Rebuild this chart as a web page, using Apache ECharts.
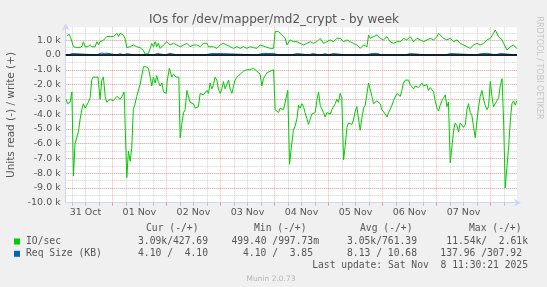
<!DOCTYPE html>
<html><head><meta charset="utf-8">
<script src="https://cdn.jsdelivr.net/npm/echarts@6/dist/echarts.min.js"></script>
<style>html,body{margin:0;padding:0;background:#f0f0f0}#c{width:547px;height:287px}</style>
</head><body><div id="c"></div><script>
// hours relative to Sat 01 Nov 00:00
const xMin = -20.75, xMax = 179.75;
const dayTicks = [0, 24, 48, 72, 96, 120, 144, 168];
const sixHourTicks = [-18,-12,-6,6,12,18,30,36,42,54,60,66,78,84,90,102,108,114,126,132,138,150,156,162,174];
const labelTicks = [-12, 12, 36, 60, 84, 108, 132, 156];
const dateLabels = ["31 Oct","01 Nov","02 Nov","03 Nov","04 Nov","05 Nov","06 Nov","07 Nov"];

// IO/sec write (+)
const ioWrite = [[-20.1,1300],[-19.2,1400],[-18.6,1200],[-17.9,1100],[-17.3,560],[-15.8,500],[-14.4,500],[-13.5,600],[-12.9,900],[-12.1,560],[-10.8,560],[-9.9,700],[-9.2,560],[-8.4,500],[-7.7,560],[-6.9,900],[-6.2,680],[-5.5,900],[-4.7,800],[-4.0,1000],[-3.2,1130],[-2.5,1250],[-1.8,1130],[-1.0,1250],[-0.3,1130],[0.4,1250],[1.2,1350],[2.0,1470],[2.7,1250],[3.4,1470],[4.2,1580],[4.9,1350],[5.6,1130],[6.4,500],[7.1,560],[7.9,560],[8.6,500],[9.3,680],[10.1,790],[10.8,560],[11.6,680],[12.3,500],[13.1,400],[13.8,300],[14.5,50],[15.3,0],[16.0,100],[16.8,450],[17.5,790],[18.2,560],[19.0,900],[19.7,560],[20.4,790],[21.2,450],[22.7,680],[23.4,790],[24.2,900],[24.9,1000],[25.6,680],[27.1,790],[28.6,680],[30.1,560],[31.6,680],[33.1,790],[34.5,560],[36.0,680],[37.5,680],[39.0,560],[40.4,790],[41.2,680],[42.0,790],[42.7,560],[43.4,680],[44.9,560],[46.4,450],[47.9,680],[49.3,790],[50.8,680],[52.3,560],[53.8,450],[55.3,560],[56.8,450],[58.2,560],[59.7,450],[61.2,560],[62.7,500],[64.2,450],[65.6,680],[66.4,680],[67.9,560],[70.1,450],[71.6,450],[72.3,1580],[73.1,1690],[73.8,1580],[74.5,1470],[75.3,1350],[76.0,1350],[76.8,1130],[77.5,680],[78.2,790],[79.0,1020],[80.4,900],[81.2,1020],[82.0,900],[83.4,790],[84.9,680],[86.4,790],[87.9,900],[89.3,790],[90.8,900],[92.3,1130],[93.1,1020],[93.8,790],[95.3,900],[96.8,1020],[98.2,900],[99.7,1130],[100.4,1240],[101.2,1130],[102.7,900],[104.2,1020],[105.6,900],[107.1,790],[108.6,680],[110.1,450],[111.6,680],[113.1,560],[113.8,1350],[114.5,1130],[116.0,1240],[117.5,1350],[119.0,1130],[120.4,1020],[122.0,1240],[123.4,900],[124.9,790],[126.4,900],[127.9,900],[129.3,1130],[130.8,1020],[132.3,1240],[133.8,900],[135.3,1130],[136.8,1020],[138.2,900],[139.7,1020],[141.2,1130],[142.7,1020],[144.2,1240],[144.9,1470],[145.6,1350],[147.1,1130],[148.6,1020],[150.1,1130],[151.6,900],[153.1,1020],[154.5,790],[156.0,680],[157.5,560],[159.0,450],[160.4,680],[162.0,790],[163.4,680],[164.9,790],[166.4,1020],[167.9,1130],[169.3,1470],[170.1,1690],[170.8,1470],[171.6,1240],[172.3,1130],[173.1,1020],[173.8,790],[175.3,340],[176.0,450],[176.8,560],[177.5,450],[178.2,680],[179.0,790],[179.7,428]];

// IO/sec read (-), stored as positive reads/sec
const ioRead = [[-20.6,3000],[-19.9,3300],[-18.8,3200],[-18.0,2500],[-17.3,8200],[-16.6,6000],[-15.8,5900],[-15.1,5200],[-14.4,4400],[-13.6,3700],[-12.9,3300],[-12.1,3600],[-11.4,3400],[-10.7,3200],[-9.9,2900],[-9.2,1700],[-8.6,1500],[-7.7,1500],[-6.4,1500],[-5.5,3000],[-4.7,1700],[-4.0,1500],[-3.2,2800],[-2.5,3200],[-1.0,3000],[0.4,3100],[2.0,2800],[3.4,3000],[4.3,2800],[5.2,2500],[6.4,8300],[7.1,6500],[7.9,7200],[8.6,6300],[9.3,3700],[10.1,3300],[10.8,2800],[12.3,2000],[13.8,800],[15.0,800],[16.0,900],[16.8,1500],[17.5,2100],[18.2,1500],[19.0,1900],[19.7,1400],[20.4,1800],[21.2,2100],[22.0,1900],[22.7,2500],[23.9,2600],[24.4,1700],[25.3,900],[26.4,1500],[27.1,1300],[28.3,1500],[28.9,1400],[29.5,1500],[30.1,5600],[30.8,4700],[31.6,3900],[32.3,3700],[33.1,2400],[34.5,3200],[36.0,3300],[36.8,3600],[37.5,3700],[38.2,3500],[39.0,2600],[39.7,2500],[40.4,2700],[41.2,2800],[42.0,2400],[42.7,2600],[43.4,1900],[44.2,2300],[44.9,2000],[45.6,1500],[46.4,1700],[47.1,2300],[47.9,2600],[48.6,2300],[49.3,1800],[50.1,2300],[50.8,2000],[51.6,1700],[52.3,2300],[53.1,2600],[53.8,2100],[54.5,1700],[55.3,1500],[56.8,1300],[57.5,1200],[58.2,1100],[59.7,1000],[61.2,1000],[62.7,900],[63.4,1000],[64.2,1100],[65.6,1300],[66.4,2100],[67.1,1600],[67.9,1400],[68.6,1200],[70.1,1100],[71.6,1000],[72.3,3700],[73.1,3700],[73.8,3900],[74.5,3600],[76.0,3700],[77.9,2400],[78.7,7400],[79.3,6500],[80.4,5100],[81.2,4800],[82.0,4300],[82.7,3400],[83.4,3600],[84.2,3300],[84.9,3500],[85.6,3900],[86.4,4300],[87.1,4700],[87.9,4600],[88.6,4000],[90.1,3900],[90.8,3100],[91.6,2500],[92.3,3400],[93.1,3500],[93.8,3900],[94.5,4200],[95.3,3900],[96.8,4000],[97.5,3700],[98.2,3600],[99.0,3300],[99.7,3000],[100.4,3200],[101.2,2600],[101.9,2900],[102.7,7100],[103.4,6200],[104.2,4900],[104.9,4600],[105.6,4500],[106.4,4700],[107.1,4400],[107.9,3800],[108.6,3500],[109.4,4400],[110.1,5100],[110.8,4300],[111.6,3600],[112.3,3400],[113.1,3500],[113.8,1900],[114.5,2000],[115.3,2800],[116.0,3300],[116.8,3400],[117.5,3100],[119.0,3300],[119.7,3700],[120.4,3700],[121.2,4000],[122.0,4200],[122.7,3900],[123.4,3700],[124.2,3400],[124.9,3100],[126.4,2600],[127.9,2800],[128.6,2400],[129.3,1900],[130.1,1700],[130.8,1800],[131.6,1700],[132.3,2000],[133.1,1900],[133.8,2300],[134.5,2100],[135.3,2000],[136.0,2200],[136.8,2300],[137.5,1900],[138.2,2100],[139.0,2200],[139.7,2000],[140.4,2400],[141.2,2200],[142.0,2300],[142.7,2500],[143.4,3100],[144.2,3600],[144.9,3800],[145.6,3400],[146.4,3100],[147.1,2900],[147.9,2700],[148.6,3500],[149.3,3200],[150.1,7300],[150.8,7300],[151.6,5100],[152.3,4600],[153.1,4800],[153.8,5200],[154.5,4600],[155.3,4500],[156.0,4900],[156.8,4700],[157.5,3700],[158.2,3300],[159.0,3900],[159.7,4100],[160.4,4800],[161.2,5600],[162.0,4400],[162.7,3500],[163.4,2800],[164.2,2400],[164.9,3000],[165.6,3400],[166.4,3700],[167.1,3500],[167.9,1800],[168.6,2800],[169.3,3500],[170.1,3600],[170.8,3100],[171.6,2900],[172.3,2100],[173.1,1600],[173.8,4400],[174.5,9000],[175.3,9000],[176.0,6300],[176.8,4400],[177.5,3300],[178.2,3100],[179.0,3400],[179.7,3090]];

// Req Size (KB) write (+)
const reqWrite = [[-20.7,8],[-19.3,8],[-18.8,110],[-17.9,100],[-17.3,8],[-7.0,8],[-6.4,120],[-5.0,130],[-3.6,110],[-2.4,120],[-1.8,8],[2.0,8],[2.5,90],[3.4,90],[4.0,8],[5.0,8],[5.6,100],[6.5,90],[7.1,8],[9.5,8],[10.1,80],[10.8,8],[14.7,8],[15.4,90],[16.0,8],[18.3,8],[19.0,100],[19.9,100],[20.5,8],[23.6,8],[24.3,110],[25.6,110],[26.3,8],[28.5,8],[29.2,80],[29.9,8],[32.5,8],[33.2,80],[33.9,8],[36.9,8],[37.6,80],[38.3,8],[41.4,8],[42.1,90],[44.0,100],[46.5,90],[47.9,100],[49.2,90],[49.9,8],[64.1,8],[64.8,100],[67.0,110],[69.2,100],[71.4,110],[72.1,8],[73.8,8],[74.5,80],[75.2,8],[79.6,8],[80.3,100],[82.1,100],[82.8,8],[87.2,8],[87.9,100],[89.2,100],[89.9,8],[91.6,8],[92.3,90],[93.0,8],[93.8,8],[94.5,90],[95.2,8],[96.1,8],[96.8,100],[98.1,100],[98.8,8],[103.6,8],[104.3,80],[105.0,8],[112.5,8],[113.2,110],[115.4,100],[117.6,110],[118.3,8],[119.6,8],[120.3,90],[121.0,8],[130.3,8],[131.0,100],[132.3,100],[133.0,8],[139.2,8],[139.9,90],[140.6,8],[143.6,8],[144.3,90],[145.0,8],[148.1,8],[148.8,100],[150.1,100],[150.8,8],[161.4,8],[162.1,110],[164.3,100],[166.5,110],[167.2,8],[170.3,8],[171.0,100],[172.3,100],[173.0,8],[179.7,4.1]];
// Req Size (KB) read (-), stored positive
const reqRead = [[-20.7,6],[40,9],[100,8],[179.7,4.1]];

const legendHead = ["Cur (-/+)", "Min (-/+)", "Avg (-/+)", "Max (-/+)"];
const legendRows = [
  {name: "IO/sec", color: "#00CC00", vals: ["3.09k/427.69", "499.40 /997.73m", "3.05k/761.39", "11.54k/  2.61k"]},
  {name: "Req Size (KB)", color: "#0066B3", vals: ["4.10 /  4.10", "4.10 /  3.85", "8.13 / 10.68", "137.96 /307.92"]}
];

const neg = arr => arr.map(p => [p[0], -p[1]]);
const SANS = "DejaVu Sans", MONO = "DejaVu Sans Mono";
const GRID_MINOR = "rgba(140,140,140,0.38)", GRID_MAJOR = "rgba(235,110,110,0.5)", AXIS = "#CFD6F8";

const chart = echarts.init(document.getElementById('c'), null, {renderer: 'canvas'});

const headX = [146, 254, 360, 469];
const valRight = [[208, 319, 417, 528], [208, 313, 417, 522]];
const rowY = [241.5, 253.8];
const graphic = [];
graphic.push({type:'text', x:274, y:20, style:{text:"IOs for /dev/mapper/md2_crypt - by week", font:"12px '"+SANS+"'", fill:"#555", align:'center', verticalAlign:'middle'}});
graphic.push({type:'text', x:11, y:115, rotation:Math.PI/2, style:{text:"Units read (-) / write (+)", font:"10.5px '"+SANS+"'", fill:"#555", align:'center', verticalAlign:'middle'}});
graphic.push({type:'text', x:539, y:68, rotation:-Math.PI/2, style:{text:"RRDTOOL / TOBI OETIKER", font:"8px '"+SANS+"'", fill:"#c4c4c4", align:'center', verticalAlign:'middle'}});
legendHead.forEach((t,i)=>graphic.push({type:'text', x:headX[i], y:228.4, style:{text:t, font:"9.7px '"+MONO+"'", fill:"#555", align:'left', verticalAlign:'middle'}}));
legendRows.forEach((r,ri)=>{
  graphic.push({type:'rect', shape:{x:14, y:rowY[ri]-3, width:6, height:6}, style:{fill:r.color}});
  graphic.push({type:'text', x:26, y:rowY[ri], style:{text:r.name, font:"9.7px '"+MONO+"'", fill:"#555", align:'left', verticalAlign:'middle'}});
  r.vals.forEach((v,i)=>graphic.push({type:'text', x:valRight[ri][i], y:rowY[ri], style:{text:v, font:"9.7px '"+MONO+"'", fill:"#555", align:'right', verticalAlign:'middle'}}));
});
graphic.push({type:'text', x:528, y:265.7, style:{text:"Last update: Sat Nov  8 11:30:21 2025", font:"9.7px '"+MONO+"'", fill:"#555", align:'right', verticalAlign:'middle'}});
graphic.push({type:'text', x:271, y:279, style:{text:"Munin 2.0.73", font:"7.5px '"+SANS+"'", fill:"#b4b4b4", align:'center', verticalAlign:'middle'}});

const lineSeries = (name, data, color, z) => ({
  name, type:'line', data, xAxisIndex:1, yAxisIndex:1, showSymbol:false, symbol:'none',
  lineStyle:{color, width:1}, itemStyle:{color}, z, silent:true, animation:false
});

chart.setOption({
  backgroundColor:'#f0f0f0',
  animation:false,
  grid:{left:65.7, right:30, top:27.3, bottom:84.3, show:true, backgroundColor:'#ffffff', borderWidth:0},
  xAxis:[
    {type:'value', min:xMin, max:xMax, position:'bottom',
     axisLine:{show:false, onZero:false},
     axisTick:{show:true, customValues:sixHourTicks, length:3, lineStyle:{color:'rgba(150,150,150,0.5)'}},
     axisLabel:{show:false},
     splitLine:{show:true, lineStyle:{color:GRID_MINOR, type:[1,1], width:1}}},
    {type:'value', min:xMin, max:xMax, position:'bottom',
     axisLine:{show:true, onZero:false, lineStyle:{color:AXIS, width:1}, symbol:['none','arrow'], symbolSize:[6,7], symbolOffset:[0,4]},
     axisTick:{show:true, customValues:dayTicks, length:3, lineStyle:{color:'rgba(230,100,100,0.7)'}},
     axisLabel:{show:true, customValues:labelTicks, margin:5, color:'#555', fontFamily:SANS, fontSize:9.5,
       formatter:v=>{const i=labelTicks.indexOf(Math.round(v)); return i>=0?dateLabels[i]:'';}},
     splitLine:{show:true, lineStyle:{color:GRID_MAJOR, type:[1,1], width:1}}}
  ],
  yAxis:[
    {type:'value', min:-10000, max:1875, interval:500, position:'left',
     axisLine:{show:false}, axisTick:{show:false}, axisLabel:{show:false},
     splitLine:{show:true, showMinLine:false, showMaxLine:false, lineStyle:{color:GRID_MINOR, type:[1,1], width:1}}},
    {type:'value', min:-10000, max:1875, interval:1000, position:'left',
     axisLine:{show:true, onZero:false, lineStyle:{color:AXIS, width:1}, symbol:['none','arrow'], symbolSize:[6,7], symbolOffset:[0,4]},
     axisTick:{show:false},
     axisLabel:{show:true, showMaxLabel:false, margin:5, color:'#555', fontFamily:SANS, fontSize:9.5,
       formatter:v=> v===0 ? '0.0' : (v/1000).toFixed(1)+' k'},
     splitLine:{show:true, showMinLine:false, showMaxLine:false, lineStyle:{color:GRID_MAJOR, type:[1,1], width:1}}}
  ],
  series:[
    lineSeries('Req read', neg(reqRead), '#0066B3', 2),
    lineSeries('Req write', reqWrite, '#0066B3', 2),
    {type:'line', data:[], xAxisIndex:1, yAxisIndex:1, z:3, silent:true,
     markLine:{silent:true, symbol:['none','none'], label:{show:false}, lineStyle:{color:'#000', width:1.5, type:'solid'}, data:[{yAxis:0}]}},
    lineSeries('IO read', neg(ioRead), '#00CC00', 4),
    lineSeries('IO write', ioWrite, '#00CC00', 4)
  ],
  graphic
});
</script></body></html>
